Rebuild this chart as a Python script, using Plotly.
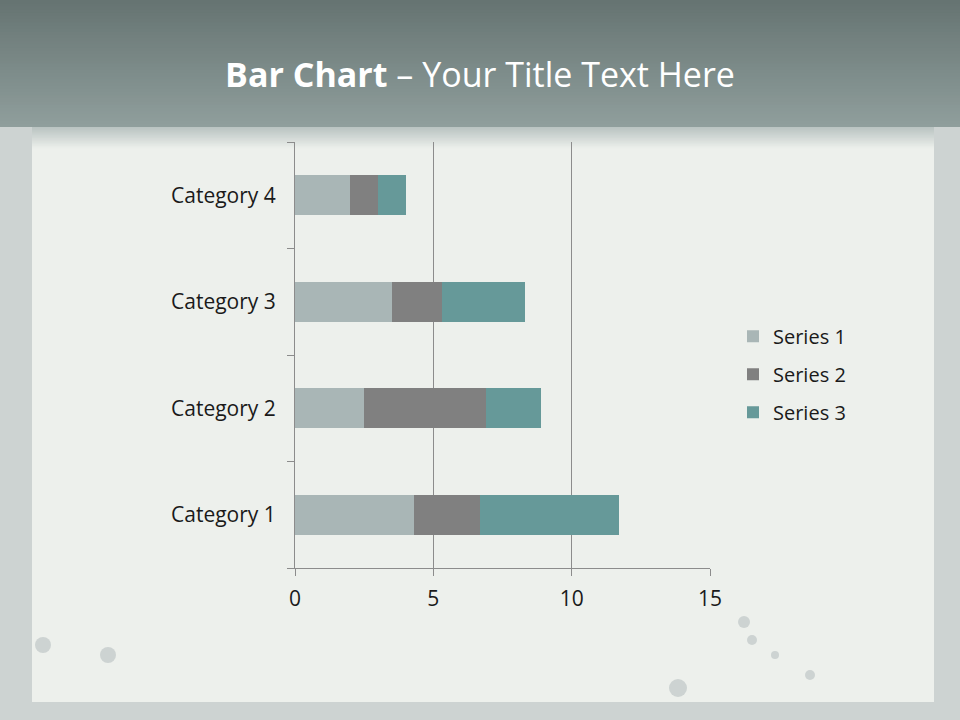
import plotly.graph_objects as go

categories = ["Category 1", "Category 2", "Category 3", "Category 4"]
series_names = ["Series 1", "Series 2", "Series 3"]
series1 = [4.3, 2.5, 3.5, 2.0]
series2 = [2.4, 4.4, 1.8, 1.0]
series3 = [5.0, 2.0, 3.0, 1.0]
colors = ["#a9b6b6", "#808080", "#669999"]
x_ticks = [0, 5, 10, 15]

fig = go.Figure()
for name, vals, col in zip(series_names, [series1, series2, series3], colors):
    fig.add_trace(go.Bar(y=categories, x=vals, name=name, orientation="h",
                         legendgroup=name,
                         marker=dict(color=col, line=dict(width=0))))

L, R, T, B = 295, 250, 142, 152
PW, PH = 960 - L - R, 720 - T - B

def px(x):
    return (x - L) / PW

def py(y):
    return (720 - B - y) / PH

def lerp(a, b, t):
    return tuple(int(round(a[i] + (b[i] - a[i]) * t)) for i in range(3))

shapes = []
# frame edges (grungy border)
shapes.append(dict(type="rect", xref="paper", yref="paper",
                   x0=px(0), x1=px(960), y0=py(720), y1=py(120),
                   fillcolor="#cdd3d2", line=dict(width=0), layer="below"))
shapes.append(dict(type="rect", xref="paper", yref="paper",
                   x0=px(32), x1=px(934), y0=py(702), y1=py(130),
                   fillcolor="#edf0ec", line=dict(width=0), layer="below"))

# header gradient (each strip extends to the bottom of the header: no seams)
top = (102, 116, 114)
bot = (143, 158, 156)
n = 40
hh = 127
for i in range(n):
    y0 = hh * i / n
    c = lerp(top, bot, i / (n - 1))
    shapes.append(dict(type="rect", xref="paper", yref="paper",
                       x0=px(0), x1=px(960), y0=py(hh), y1=py(y0),
                       fillcolor="rgb(%d,%d,%d)" % c, line=dict(width=0), layer="below"))
# soft transition below header
m = 14
for i in range(m):
    y0 = hh + 22 * i / m
    c = lerp((186, 196, 194), (236, 239, 235), i / (m - 1))
    shapes.append(dict(type="rect", xref="paper", yref="paper",
                       x0=px(32), x1=px(934), y0=py(hh + 22), y1=py(y0),
                       fillcolor="rgb(%d,%d,%d)" % c, line=dict(width=0), layer="below"))

# a few spots
for (cx, cy, r) in [(108, 655, 8), (744, 622, 6), (752, 640, 5), (678, 688, 9), (43, 645, 8),
                    (775, 655, 4), (810, 675, 5)]:
    shapes.append(dict(type="circle", xref="paper", yref="paper",
                       x0=px(cx - r), x1=px(cx + r), y0=py(cy + r), y1=py(cy - r),
                       fillcolor="#cdd3d2", line=dict(width=0), layer="below"))

fig.update_layout(shapes=shapes)

fig.update_layout(
    width=960, height=720,
    barmode="stack", bargap=0.62,
    paper_bgcolor="#edf0ec", plot_bgcolor="rgba(0,0,0,0)",
    margin=dict(l=L, r=R, t=T, b=B, pad=0),
    font=dict(family="Open Sans", color="#1a1a1a", size=20),
    title=dict(text="<b>Bar Chart</b> – Your Title Text Here", x=0.5, xanchor="center",
               y=1 - 75 / 720, yanchor="middle", yref="container",
               font=dict(family="Open Sans", size=34, color="#ffffff")),
    legend=dict(x=px(733), xanchor="left", y=0.455, yanchor="middle",
                traceorder="grouped", font=dict(size=20), bgcolor="rgba(0,0,0,0)",
                itemwidth=30, tracegroupgap=9),
    showlegend=True,
)
fig.update_xaxes(range=[0, 15], tickvals=x_ticks, ticktext=[str(v) for v in x_ticks],
                 tickfont=dict(size=21),
                 showgrid=True, gridcolor="#8c8c8c", gridwidth=1,
                 showline=True, linecolor="#8c8c8c", linewidth=1,
                 ticks="outside", ticklen=7, tickcolor="#8c8c8c",
                 zeroline=False, ticklabelstandoff=5, fixedrange=True)
fig.update_yaxes(categoryorder="array", categoryarray=categories,
                 tickfont=dict(size=21),
                 showgrid=False, showline=True, linecolor="#8c8c8c", linewidth=1,
                 ticks="outside", ticklen=7, tickcolor="#8c8c8c", tickson="boundaries",
                 ticklabelstandoff=14, zeroline=False, fixedrange=True)

fig.write_html("out.html", config={"displayModeBar": False},
               post_script="document.body.style.margin='0';document.body.style.padding='0';")
